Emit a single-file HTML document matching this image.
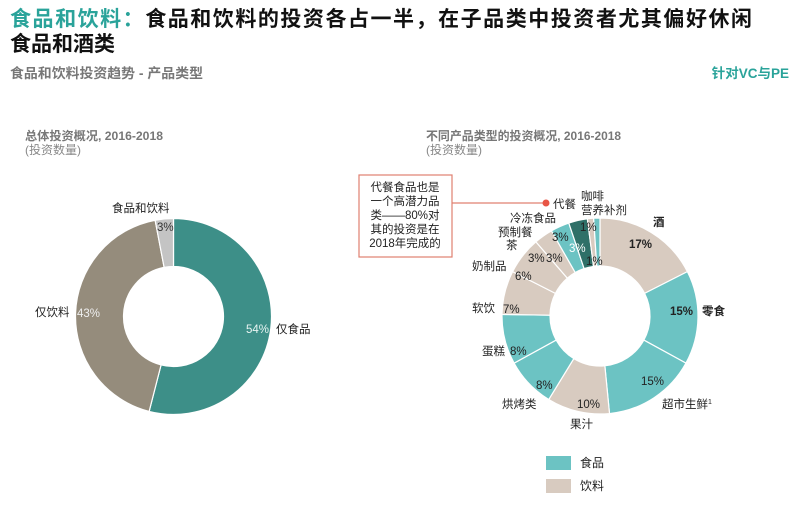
<!DOCTYPE html>
<html><head><meta charset="utf-8"><style>
body{margin:0;background:#fff;width:800px;height:509px;overflow:hidden;font-family:"Liberation Sans","Noto Sans CJK SC",sans-serif}
</style></head><body>
<svg id="s" width="800" height="509" viewBox="0 0 800 509" xmlns="http://www.w3.org/2000/svg" font-family="'Liberation Sans','Noto Sans CJK SC',sans-serif">
<text x="10" y="26" font-size="21" font-weight="bold" fill="#111" textLength="742" lengthAdjust="spacing"><tspan fill="#2aa39a">食品和饮料：</tspan>食品和饮料的投资各占一半，在子品类中投资者尤其偏好休闲</text>
<text x="10" y="51" font-size="21" font-weight="bold" fill="#111">食品和酒类</text>
<text x="10" y="78" font-size="13.5" font-weight="bold" fill="#777" textLength="193" lengthAdjust="spacingAndGlyphs">食品和饮料投资趋势 - 产品类型</text>
<text x="789" y="78" font-size="13.5" font-weight="bold" fill="#2aa39a" text-anchor="end">针对VC与PE</text>
<text x="25" y="140" font-size="12" font-weight="bold" fill="#777" textLength="138" lengthAdjust="spacingAndGlyphs">总体投资概况, 2016-2018</text>
<text x="25" y="154" font-size="12" fill="#888">(投资数量)</text>
<text x="426" y="140" font-size="12" font-weight="bold" fill="#777" textLength="195" lengthAdjust="spacingAndGlyphs">不同产品类型的投资概况, 2016-2018</text>
<text x="426" y="154" font-size="12" fill="#888">(投资数量)</text>
<g id="L"></g><g id="R"></g>
<g font-size="11.5" fill="#222">
<text x="112" y="212">食品和饮料</text>
<text x="157" y="231" fill="#333">3%</text>
<text x="35" y="316">仅饮料</text>
<text x="77" y="317" fill="#eee">43%</text>
<text x="246" y="333" fill="#e8f4f2">54%</text>
<text x="276" y="333">仅食品</text>
</g>
<rect x="359" y="175" width="93" height="82" fill="#fff" stroke="#e08070" stroke-width="1.2"/>
<g font-size="11.5" fill="#222" text-anchor="middle">
<text x="405" y="191">代餐食品也是</text>
<text x="405" y="205">一个高潜力品</text>
<text x="405" y="219">类——80%对</text>
<text x="405" y="233">其的投资是在</text>
<text x="405" y="247">2018年完成的</text>
</g>
<line x1="452" y1="203" x2="546" y2="203" stroke="#e08070" stroke-width="1.2"/>
<circle cx="546" cy="203" r="3.5" fill="#e85545"/>
<g font-size="11.5" fill="#222">
<text x="553" y="208">代餐</text>
<text x="581" y="200">咖啡</text>
<text x="581" y="214">营养补剂</text>
<text x="510" y="222">冷冻食品</text>
<text x="498" y="236">预制餐</text>
<text x="506" y="249">茶</text>
<text x="472" y="270">奶制品</text>
<text x="472" y="312">软饮</text>
<text x="482" y="355">蛋糕</text>
<text x="502" y="408">烘烤类</text>
<text x="570" y="428">果汁</text>
<text x="662" y="408">超市生鲜<tspan font-size="7" dy="-4">1</tspan></text>
<text x="653" y="226" font-weight="bold">酒</text>
<text x="702" y="315" font-weight="bold">零食</text>
<text x="629" y="248" font-weight="bold">17%</text>
<text x="670" y="315" font-weight="bold">15%</text>
<text x="641" y="385">15%</text>
<text x="577" y="408">10%</text>
<text x="536" y="389">8%</text>
<text x="510" y="355">8%</text>
<text x="503" y="313">7%</text>
<text x="515" y="280">6%</text>
<text x="528" y="262">3%</text>
<text x="546" y="262">3%</text>
<text x="552" y="241">3%</text>
<text x="569" y="252" fill="#fff">3%</text>
<text x="586" y="265">1%</text>
<text x="580" y="231">1%</text>
</g>
<rect x="546" y="456" width="25" height="14" fill="#6cc3c3"/>
<rect x="546" y="479" width="25" height="14" fill="#d8cbc0"/>
<text x="580" y="467" font-size="12" fill="#222">食品</text>
<text x="580" y="490" font-size="12" fill="#222">饮料</text>
</svg>
<script>
function donut(g,cx,cy,ro,ri,data){
 var tot=data.reduce(function(a,d){return a+d[0]},0),a=0,h='';
 data.forEach(function(d){
  var a0=a/tot*2*Math.PI-Math.PI/2;a+=d[0];var a1=a/tot*2*Math.PI-Math.PI/2;
  var lg=(a1-a0)>Math.PI?1:0;
  function p(r,t){return (cx+r*Math.cos(t)).toFixed(2)+' '+(cy+r*Math.sin(t)).toFixed(2)}
  h+='<path d="M'+p(ro,a0)+' A'+ro+' '+ro+' 0 '+lg+' 1 '+p(ro,a1)+' L'+p(ri,a1)+' A'+ri+' '+ri+' 0 '+lg+' 0 '+p(ri,a0)+'Z" fill="'+d[1]+'" stroke="#fff" stroke-width="1.2"/>';
 });
 document.getElementById(g).innerHTML=h;
}
donut('L',173.5,316.5,98,50,[[54,'#3d8f88'],[43,'#958c7c'],[3,'#c4c4c4']]);
var T='#6cc3c3',B='#d8cbc0',D='#2f7068';
donut('R',600,316,98,50,[[17,B],[15,T],[15,T],[10,B],[8,T],[8,T],[7,B],[6,B],[3,B],[3,T],[3,D],[1,B],[1,T]]);
</script>
</body></html>
